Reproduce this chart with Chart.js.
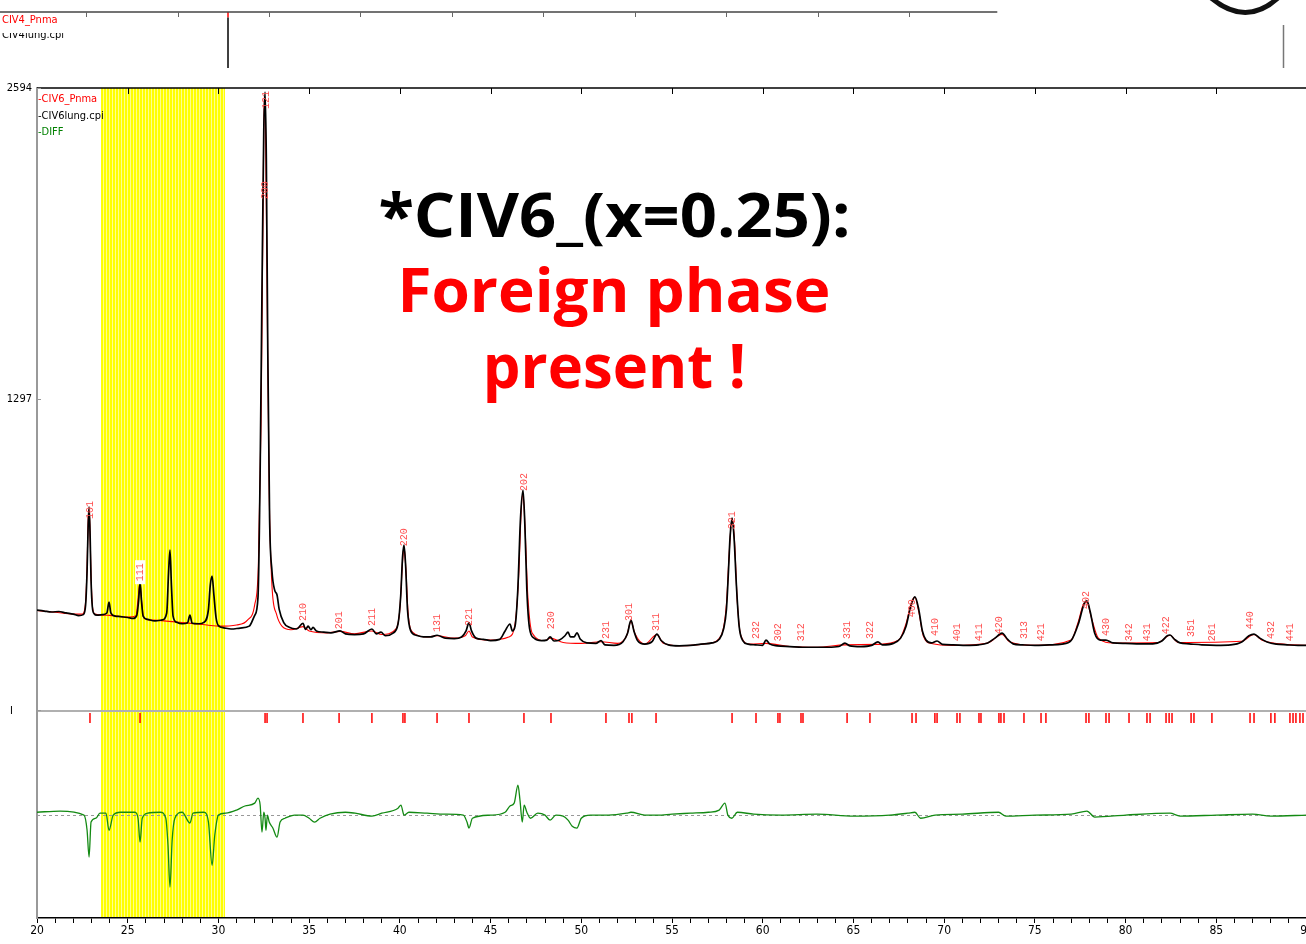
<!DOCTYPE html>
<html><head><meta charset="utf-8">
<script src="https://cdn.jsdelivr.net/npm/chart.js@4.4.1/dist/chart.umd.min.js"></script>
<style>
html,body{margin:0;padding:0;background:#fff;overflow:hidden;}
#wrap{position:relative;width:1306px;height:944px;overflow:hidden;background:#fff;}
canvas{position:absolute;left:0;top:0;}
.t{position:absolute;white-space:nowrap;font-family:'Liberation Sans Narrow','DejaVu Sans Condensed',sans-serif;font-size:11px;line-height:12px;}
.big{position:absolute;left:214px;width:800px;text-align:center;font-family:'Open Sans',sans-serif;font-weight:700;font-size:61px;line-height:61px;white-space:nowrap;}
.big span{display:inline-block;transform-origin:50% 50%;}
</style></head><body>
<div id="wrap">
<canvas id="topc" width="1306" height="75"></canvas>
<canvas id="main" width="1320" height="944"></canvas>
<div class="t" style="left:2px;top:14px;color:#ff0000;">CIV4_Pnma</div>
<div style="position:absolute;left:2px;top:33px;height:9px;overflow:hidden;"><div class="t" style="position:relative;top:-4px;color:#000;">CIV4lung.cpi</div></div>
<div class="t" style="left:38px;top:93px;color:#ff0000;">-CIV6_Pnma</div>
<div class="t" style="left:38px;top:110px;color:#000;">-CIV6lung.cpi</div>
<div class="t" style="left:38px;top:126px;color:#008000;">-DIFF</div>
<div class="big" style="top:183px;color:#000;"><span data-w="472">*CIV6_(x=0.25):</span></div>
<div class="big" style="top:258px;color:#ff0000;"><span data-w="433">Foreign phase</span></div>
<div class="big" style="top:334px;color:#ff0000;"><span data-w="263">present !</span></div>
</div>
<script>
// ---------------- DATA (2-theta in degrees, intensity in counts) ----------------
const observedCounts = [
[20.00,417],[20.4,413],[20.8,409],[21.2,411],[21.6,405],[22.0,400],[22.3,394],[22.55,398],
[22.68,440],[22.76,580],[22.82,770],[22.87,847],[22.93,720],[22.98,540],[23.05,430],[23.15,402],[23.3,396],
[23.6,398],[23.85,405],[23.97,450],[24.07,405],[24.3,392],[24.6,390],[25.0,386],[25.3,382],
[25.5,395],[25.6,455],[25.68,534],[25.76,455],[25.85,392],[26.1,378],[26.5,372],[26.9,376],
[27.15,405],[27.25,570],[27.33,667],[27.41,520],[27.5,392],[27.7,366],[28.0,360],[28.3,364],
[28.43,396],[28.55,362],[28.9,360],[29.2,366],
[29.45,420],[29.55,520],[29.65,559],[29.75,480],[29.87,385],[30.0,352],[30.3,343],[30.7,338],[31.2,342],[31.7,350],[32.0,395],
[32.18,470],[32.3,1000],[32.4,1750],[32.5,2420],[32.57,2577],[32.64,2300],[32.72,1500],[32.82,800],[32.95,580],[33.1,500],[33.23,480],[33.35,420],[33.6,365],[33.9,345],[34.3,338],
[34.66,362],[34.8,336],[34.94,350],[35.1,335],[35.21,345],[35.4,330],[35.8,325],[36.2,322],[36.7,330],[37.0,318],[37.5,315],[38.0,318],[38.46,338],[38.7,318],[38.96,325],[39.2,310],[39.6,320],
[39.9,360],[40.05,480],[40.15,640],[40.23,688],[40.32,600],[40.42,420],[40.6,330],[40.9,312],[41.3,305],[41.7,305],[42.05,312],[42.5,300],[43.0,298],[43.4,305],[43.65,330],[43.81,365],[43.95,330],[44.2,300],[44.6,295],[45.0,290],[45.5,295],[45.8,330],[46.07,359],[46.2,330],[46.35,350],[46.5,500],[46.65,800],[46.79,917],[46.9,750],[47.0,500],[47.15,340],[47.4,300],[47.8,290],[48.1,292],[48.28,305],[48.5,288],[48.8,292],[49.1,310],[49.27,325],[49.4,305],[49.6,305],[49.76,322],[49.95,295],[50.3,280],[50.8,278],[51.09,290],[51.3,272],[51.8,270],[52.3,285],[52.55,320],[52.74,375],[52.9,330],[53.1,290],[53.5,275],[53.9,285],[54.17,317],[54.4,290],[54.8,272],[55.4,268],[56.0,270],[56.6,275],[57.2,280],[57.6,295],[57.85,340],[58.0,420],[58.1,560],[58.2,720],[58.31,801],[58.42,720],[58.55,520],[58.7,350],[58.9,290],[59.2,275],[59.6,272],[60.0,270],[60.18,292],[60.4,275],[60.8,268],[61.5,265],[62.2,262],[62.9,262],[63.6,262],[64.2,265],[64.53,279],[64.8,268],[65.4,265],[66.0,270],[66.35,284],[66.6,272],[67.2,278],[67.6,300],[67.9,350],[68.15,430],[68.39,472],[68.6,420],[68.8,330],[69.0,292],[69.3,280],[69.61,288],[69.9,274],[70.5,272],[71.2,270],[71.9,272],[72.4,280],[72.8,300],[73.19,321],[73.5,295],[73.8,276],[74.3,272],[75.0,270],[75.8,272],[76.5,275],[77.0,290],[77.4,360],[77.7,440],[77.87,455],[78.05,410],[78.3,320],[78.6,292],[78.92,292],[79.3,280],[80.0,278],[80.8,276],[81.5,276],[82.0,288],[82.3,310],[82.45,313],[82.7,295],[83.0,280],[83.5,276],[84.2,272],[85.0,270],[85.8,272],[86.4,284],[86.8,310],[87.08,317],[87.4,300],[87.8,284],[88.3,275],[88.9,272],[89.5,270],[90.0,270]
];
const calculatedCounts = [
[20.0,415],[21.0,408],[22.0,400],[22.5,400],[22.68,450],[22.76,600],[22.84,830],[22.9,800],[22.98,560],[23.06,430],[23.2,400],[24.0,395],[25.0,388],[25.45,392],[25.58,470],[25.67,530],[25.76,460],[25.88,385],[26.3,375],[27.0,372],[28.0,365],[29.0,358],[30.0,350],[31.0,355],[31.6,375],[32.0,440],[32.2,600],[32.35,1200],[32.45,2000],[32.53,2560],[32.6,2400],[32.7,1600],[32.8,900],[32.95,520],[33.2,400],[33.5,350],[34.0,335],[34.66,348],[35.0,330],[36.0,322],[36.7,328],[37.5,318],[38.46,330],[39.0,315],[39.8,340],[40.0,420],[40.15,620],[40.23,680],[40.33,590],[40.45,410],[40.7,325],[41.5,305],[42.05,310],[43.0,300],[43.6,310],[43.81,330],[44.0,305],[45.0,292],[46.0,305],[46.35,360],[46.55,560],[46.7,850],[46.79,900],[46.9,760],[47.05,480],[47.3,320],[48.0,290],[48.28,300],[49.0,282],[50.0,278],[51.09,285],[52.0,278],[52.5,310],[52.74,370],[52.95,320],[53.5,275],[54.17,315],[54.5,280],[55.5,268],[57.0,278],[57.7,310],[58.0,440],[58.15,650],[58.31,800],[58.45,700],[58.6,450],[58.8,310],[59.3,275],[60.18,278],[61.5,265],[63.0,262],[64.53,272],[66.35,274],[67.5,292],[67.9,360],[68.2,450],[68.39,470],[68.6,410],[68.85,310],[69.3,278],[70.5,270],[72.4,280],[73.19,315],[73.6,285],[75.0,270],[77.0,292],[77.4,370],[77.7,445],[77.87,450],[78.1,390],[78.5,300],[79.3,280],[81.8,282],[82.45,312],[82.9,282],[86.4,287],[87.08,315],[87.5,292],[88.5,276],[90.0,270]
];
const differenceCounts = [
[20.0,12],[21.27,17],[22.59,0],[22.76,-63],[22.87,-175],[22.98,-29],[23.25,-13],[23.47,8],[23.8,8],[23.97,-63],[24.2,0],[24.6,12],[25.4,12],[25.57,-13],[25.68,-113],[25.8,-13],[26.1,8],[26.8,12],[27.1,-13],[27.22,-125],[27.33,-300],[27.45,-104],[27.6,-13],[28.0,12],[28.43,-33],[28.6,8],[29.2,12],[29.45,-29],[29.65,-209],[29.8,-83],[30.0,0],[30.4,8],[31.0,21],[31.46,38],[32.0,50],[32.18,71],[32.3,42],[32.4,-71],[32.5,12],[32.57,-13],[32.62,-63],[32.7,0],[32.8,-29],[33.0,-54],[33.23,-92],[33.4,-29],[33.67,-13],[34.2,0],[34.66,0],[35.0,-13],[35.3,-29],[35.6,-13],[36.15,4],[37.0,12],[37.53,8],[38.46,-4],[39.0,8],[39.9,29],[40.06,42],[40.23,0],[40.5,12],[41.5,8],[42.5,4],[43.5,0],[43.7,-29],[43.81,-54],[44.0,-13],[45.0,0],[45.8,12],[46.07,38],[46.3,50],[46.51,125],[46.62,63],[46.75,-29],[46.85,42],[47.0,12],[47.2,-13],[47.6,8],[48.0,0],[48.28,-21],[48.6,0],[49.0,-4],[49.27,-21],[49.5,-46],[49.76,-54],[50.0,-13],[50.5,0],[51.5,0],[52.5,8],[52.74,12],[53.5,0],[54.2,0],[55.0,4],[56.0,8],[57.0,12],[57.6,21],[57.92,50],[58.08,0],[58.3,-13],[58.6,12],[59.5,4],[61.0,0],[63.0,4],[65.0,-4],[67.0,0],[68.0,8],[68.39,12],[68.7,-13],[69.5,0],[71.0,4],[73.0,12],[73.4,-4],[75.0,0],[77.0,4],[77.87,17],[78.3,-8],[80.0,0],[82.45,8],[83.0,-4],[85.0,0],[87.0,4],[88.0,-4],[90.0,0]
];
const braggPositions = [22.92,25.68,32.57,32.68,34.66,36.65,38.46,40.17,40.28,42.05,43.81,46.84,48.33,51.36,52.63,52.79,54.12,58.31,59.63,60.84,60.95,62.11,62.22,64.65,65.91,68.23,68.45,69.49,69.61,70.71,70.87,71.92,72.03,73.02,73.13,73.30,74.40,75.34,75.61,77.82,77.98,78.92,79.09,80.19,81.18,81.35,82.23,82.40,82.56,83.61,83.77,84.76,86.86,87.08,88.01,88.23,89.06,89.23,89.39,89.61,89.78];
const hklText = ['101','111','121','200','210','201','211','220','131','221','202','230','231','301','311','321','232','302','312','331','322','400','410','401','411','420','313','421','402','430','342','431','422','351','261','440','432','441'];
const hklAngle = [22.92,25.68,32.66,32.57,34.66,36.65,38.46,40.23,42.05,43.81,46.84,48.33,51.36,52.63,54.12,58.31,59.63,60.84,62.11,64.65,65.91,68.23,69.49,70.71,71.92,73.02,74.40,75.34,77.82,78.92,80.19,81.18,82.23,83.61,84.76,86.86,88.01,89.06];
const hklHeight = [834,575,2544,2168,409,375,388,721,363,388,951,375,334,409,367,792,334,325,325,334,334,425,346,325,325,354,334,325,459,346,325,325,354,342,325,375,334,325];
const hklBoxed = ['111'];
const excludedRegion = [23.53, 30.36];
const yTickValues = [2594, 1297, 0];
const yTickText = ['2594', '1297', 'I'];
const xRange = [20, 90];
const yRange = [-867, 2594];
// second (cropped) pattern strip at top
const civ4ObsPeak = [[32.76,0],[32.76,90]];
const civ4CalcPeak = [[32.76,90],[32.76,100]];
const civ4Frame = [20.3, 74.8];
const civ4Ticks = [25,30,35,40,45,50,55,60,65,70];
const civ4Range = [20.3, 91.67];
// plotting constants
const DIFF_OFFSET = -438;
const BRAGG_LEVEL = -33;

const toXY = a => a.map(p => ({x: p[0], y: p[1]}));
const AXFONT = {family: "'Liberation Sans Narrow','DejaVu Sans Condensed',sans-serif", size: 12};

const decor = {
  id: 'decor',
  beforeDraw(chart) {
    const {ctx, chartArea: a, scales: {x, y}} = chart;
    const x0 = x.getPixelForValue(excludedRegion[0]), x1 = x.getPixelForValue(excludedRegion[1]);
    ctx.save();
    ctx.fillStyle = '#ffff00';
    ctx.fillRect(x0, a.top, x1 - x0, a.bottom - a.top - 1);
    ctx.fillStyle = '#ffff8c';
    for (let px = Math.round(x0) + 2; px < x1 - 1; px += 3) ctx.fillRect(px, a.top, 1, a.bottom - a.top - 1);
    // zero line of pattern
    const yz = Math.round(y.getPixelForValue(0)) + 1;
    ctx.strokeStyle = '#b0b0b0'; ctx.lineWidth = 2;
    ctx.beginPath(); ctx.moveTo(a.left, yz); ctx.lineTo(a.right, yz); ctx.stroke();
    // difference zero line
    const yd = Math.round(y.getPixelForValue(DIFF_OFFSET)) + 0.5;
    ctx.strokeStyle = '#999'; ctx.lineWidth = 1; ctx.setLineDash([3, 3]);
    ctx.beginPath(); ctx.moveTo(a.left, yd); ctx.lineTo(a.right, yd); ctx.stroke();
    ctx.restore();
  },
  afterDatasetsDraw(chart) {
    const {ctx, scales: {x, y}} = chart;
    ctx.save();
    ctx.font = "10px 'Liberation Mono','DejaVu Sans Mono',monospace";
    ctx.textAlign = 'center'; ctx.textBaseline = 'middle';
    hklText.forEach((t, i) => {
      const px = x.getPixelForValue(hklAngle[i]), py = y.getPixelForValue(hklHeight[i]);
      ctx.save(); ctx.translate(px, py); ctx.rotate(-Math.PI / 2);
      if (hklBoxed.includes(t)) { ctx.fillStyle = '#fff'; ctx.fillRect(-12, -5, 24, 10); }
      ctx.fillStyle = '#ff4d4d';
      ctx.fillText(t, 0, 0);
      ctx.restore();
    });
    ctx.restore();
  },
  afterDraw(chart) {
    const {ctx, chartArea: a, scales: {x, y}} = chart;
    ctx.save();
    // top frame + inward ticks
    ctx.strokeStyle = '#000'; ctx.lineWidth = 1.5;
    ctx.beginPath(); ctx.moveTo(a.left, a.top); ctx.lineTo(a.right, a.top); ctx.stroke();
    ctx.lineWidth = 1;
    for (let v = 25; v < xRange[1]; v += 5) {
      const px = Math.round(x.getPixelForValue(v)) + 0.5;
      ctx.beginPath(); ctx.moveTo(px, a.top); ctx.lineTo(px, a.top + 6); ctx.stroke();
    }
    // y labels and inner ticks
    ctx.font = "11px 'Liberation Sans Narrow','DejaVu Sans Condensed',sans-serif";
    ctx.fillStyle = '#000'; ctx.textBaseline = 'middle';
    yTickValues.forEach((v, i) => {
      const py = Math.round(y.getPixelForValue(v));
      if (yTickText[i] === 'I') { ctx.textAlign = 'left'; ctx.fillText(yTickText[i], 10, py + 1); }
      else { ctx.textAlign = 'right'; ctx.fillText(yTickText[i], 32, py); }
      ctx.strokeStyle = '#999'; ctx.beginPath(); ctx.moveTo(a.left, py + 0.5); ctx.lineTo(a.left + 4, py + 0.5); ctx.stroke();
    });
    ctx.restore();
  }
};

new Chart(document.getElementById('main'), {
  type: 'line',
  data: {datasets: [
    {label: 'CIV6lung.cpi', data: toXY(observedCounts), borderColor: '#000', borderWidth: 1.7, pointRadius: 0, cubicInterpolationMode: 'monotone', order: 1},
    {label: 'CIV6_Pnma', data: toXY(calculatedCounts), borderColor: '#ff0000', borderWidth: 1.1, pointRadius: 0, cubicInterpolationMode: 'monotone', order: 2},
    {label: 'DIFF', data: differenceCounts.map(p => ({x: p[0], y: p[1] + DIFF_OFFSET})), borderColor: '#138a13', borderWidth: 1.3, pointRadius: 0, cubicInterpolationMode: 'monotone', order: 3},
    {label: 'Bragg', type: 'scatter', data: braggPositions.map(v => ({x: v, y: BRAGG_LEVEL})), pointStyle: 'line', rotation: 90, pointRadius: 5, borderColor: '#ff0000', backgroundColor: '#ff0000', borderWidth: 1.5, showLine: false, order: 4}
  ]},
  options: {
    responsive: false, animation: false, events: [],
    layout: {padding: {top: 88, right: 13, left: 0, bottom: 0}},
    plugins: {legend: {display: false}, tooltip: {enabled: false}},
    scales: {
      x: {type: 'linear', min: xRange[0], max: xRange[1],
        afterFit: s => { s.height = 26; },
        grid: {drawOnChartArea: false, drawTicks: true, tickLength: 5, color: '#000', lineWidth: 1},
        border: {color: '#000', width: 1.5},
        ticks: {stepSize: 1, autoSkip: false, maxRotation: 0, padding: 1, color: '#000', font: AXFONT,
          callback: v => (v % 5 === 0 ? String(v) : '')}},
      y: {type: 'linear', min: yRange[0], max: yRange[1],
        afterFit: s => { s.width = 37; },
        grid: {drawOnChartArea: false, drawTicks: false},
        border: {color: '#999', width: 2},
        ticks: {display: false}}
    }
  },
  plugins: [decor]
});

const topDecor = {
  id: 'topDecor',
  afterDraw(chart) {
    const {ctx, chartArea: a, scales: {x}} = chart;
    ctx.save();
    ctx.strokeStyle = '#444'; ctx.lineWidth = 1.5;
    ctx.beginPath(); ctx.moveTo(x.getPixelForValue(civ4Frame[0]), a.top); ctx.lineTo(x.getPixelForValue(civ4Frame[1]), a.top); ctx.stroke();
    ctx.lineWidth = 1; ctx.strokeStyle = '#666';
    civ4Ticks.forEach(v => { const px = Math.round(x.getPixelForValue(v)) + 0.5; ctx.beginPath(); ctx.moveTo(px, a.top); ctx.lineTo(px, a.top + 5); ctx.stroke(); });
    const rx = Math.round(x.getPixelForValue(90.4)) + 0.5;
    ctx.strokeStyle = '#777'; ctx.lineWidth = 1.5;
    ctx.beginPath(); ctx.moveTo(rx, 25); ctx.lineTo(rx, a.bottom); ctx.stroke();
    // hand-drawn stroke at top right
    ctx.strokeStyle = '#111'; ctx.lineWidth = 5; ctx.lineCap = 'round';
    ctx.beginPath(); ctx.moveTo(1210, -3); ctx.quadraticCurveTo(1246, 28, 1279, -3); ctx.stroke();
    ctx.restore();
  }
};
new Chart(document.getElementById('topc'), {
  type: 'line',
  data: {datasets: [
    {data: toXY(civ4ObsPeak), borderColor: '#000', borderWidth: 1.5, pointRadius: 0},
    {data: toXY(civ4CalcPeak), borderColor: '#ff0000', borderWidth: 1.5, pointRadius: 0}
  ]},
  options: {responsive: false, animation: false, events: [],
    layout: {padding: {top: 12, bottom: 7, left: 0, right: 0}},
    plugins: {legend: {display: false}, tooltip: {enabled: false}},
    scales: {x: {type: 'linear', display: false, min: civ4Range[0], max: civ4Range[1]},
             y: {display: false, min: 0, max: 100}}},
  plugins: [topDecor]
});

document.querySelectorAll('.big span').forEach(sp => {
  const w = sp.getBoundingClientRect().width;
  sp.style.transform = 'scaleX(' + (+sp.dataset.w / w).toFixed(3) + ')';
});
</script>
</body></html>
